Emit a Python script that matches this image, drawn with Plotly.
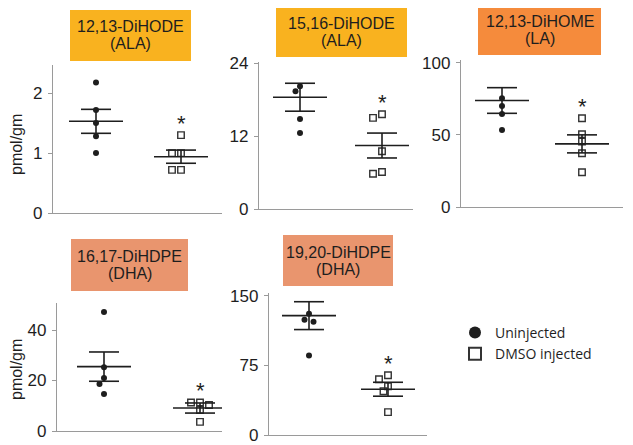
import math
import plotly.graph_objects as go

# page is 633x445; the browser body has an 8px margin, so the figure is
# drawn 8px in from the top-left and sized to fill the rest of the window
PAGE_W, PAGE_H = 633, 445
OFF = 8
W, H = PAGE_W - OFF, PAGE_H - OFF

# ---------------- data ----------------
compounds = ["12,13-DiHODE", "15,16-DiHODE", "12,13-DiHOME", "16,17-DiHDPE", "19,20-DiHDPE"]
precursors = ["(ALA)", "(ALA)", "(LA)", "(DHA)", "(DHA)"]
groups = ["Uninjected", "DMSO injected"]

uninj_vals = [
    [2.18, 1.72, 1.50, 1.28, 1.00],
    [20.2, 19.4, 14.8, 12.5],
    [75.5, 70.0, 64.6, 53.5],
    [47.1, 25.3, 21.0, 18.6, 14.7],
    [130.7, 124.3, 122.0, 85.7],
]
dmso_vals = [
    [1.30, 1.00, 1.00, 0.72, 0.72],
    [15.6, 15.0, 9.5, 6.1, 5.8],
    [61.6, 50.5, 45.4, 37.3, 24.1],
    [11.3, 11.3, 10.3, 8.3, 3.6],
    [64.3, 60.0, 52.5, 47.2, 24.6],
]
uninj_mean = [1.53, 18.4, 73.9, 25.5, 128.6]
uninj_sem = [0.20, 2.3, 8.9, 5.8, 15.0]
dmso_mean = [0.94, 10.45, 43.8, 9.1, 49.3]
dmso_sem = [0.11, 2.05, 6.25, 2.0, 7.5]
tick_vals = [[0, 1, 2], [0, 12, 24], [0, 50, 100], [0, 20, 40], [0, 75, 150]]
y_max = [2.47, 24.2, 102, 50.7, 153]
y_label = "pmol/gm"

# ---------------- layout geometry (page pixels) ----------------
panels = [
    dict(xl=53, xr=222, yb=213, yt=65, g0=96, g1=181, box=(70, 10, 191, 61), color="#F9B21F"),
    dict(xl=259, xr=413, yb=209, yt=62, g0=300, g1=382, box=(276, 7, 407, 57), color="#F9B21F"),
    dict(xl=461, xr=623, yb=207, yt=60, g0=502, g1=582, box=(478, 4, 601, 55), color="#F58B3C"),
    dict(xl=57, xr=222, yb=431, yt=303, g0=104, g1=200, box=(71, 239, 188, 291), color="#E9956E"),
    dict(xl=269, xr=427, yb=435, yt=293, g0=309, g1=388, box=(283, 235, 393, 286), color="#E9956E"),
]

FONT = "Liberation Sans, Arial, sans-serif"
AX = "#9a9a9a"
INK = "#1e1e1e"


def px_x(p):
    return (p - OFF) / W


def px_y(p):
    return 1 - (p - OFF) / H


def swarm(vals, ppu, dist=6.2, step=4.5):
    placed = []
    offs = []
    cands = [0, -step, step, -2 * step, 2 * step, -3 * step, 3 * step]
    for v in vals:
        py = v * ppu
        for c in cands:
            if all(math.hypot(c - ox, py - oy) >= dist for ox, oy in placed):
                break
        placed.append((c, py))
        offs.append(c)
    return offs


fig = go.Figure()
shapes = []
annotations = []
layout_axes = {}

for i, p in enumerate(panels):
    sfx = "" if i == 0 else str(i + 1)
    xa, ya = "x" + sfx, "y" + sfx
    gpx = p["g1"] - p["g0"]
    ppu = (p["yb"] - p["yt"]) / y_max[i]

    xr0 = (p["xl"] - p["g0"]) / gpx
    xr1 = (p["xr"] - p["g0"]) / gpx

    layout_axes["xaxis" + sfx] = dict(
        domain=[px_x(p["xl"]), min(1, px_x(p["xr"]))], range=[xr0, xr1], anchor=ya,
        showline=True, linecolor=AX, linewidth=1.3, showticklabels=False,
        ticks="", showgrid=False, zeroline=False, fixedrange=True, automargin=False,
    )
    layout_axes["yaxis" + sfx] = dict(
        domain=[max(0, px_y(p["yb"])), px_y(p["yt"])], range=[0, y_max[i]], anchor=xa,
        showline=True, linecolor=AX, linewidth=1.3, ticks="outside", ticklen=4,
        tickcolor=AX, tickwidth=1.2, tickvals=tick_vals[i],
        tickfont=dict(family=FONT, size=17, color=INK), showgrid=False,
        zeroline=False, fixedrange=True, automargin=False, ticklabelstandoff=2,
        ticklabeloverflow="allow",
    )

    # points
    for gi, vals in enumerate([uninj_vals[i], dmso_vals[i]]):
        offs = swarm(vals, ppu)
        xs = [gi + o / gpx for o in offs]
        if gi == 0:
            marker = dict(symbol="circle", size=6, color=INK, line=dict(width=0))
        else:
            marker = dict(symbol="square-open", size=6.5, color="#333333", line=dict(width=1.4))
        fig.add_trace(go.Scatter(
            x=xs, y=vals, mode="markers", marker=marker, xaxis=xa, yaxis=ya,
            name=groups[gi], showlegend=(i == 0), legendgroup=groups[gi],
            hoverinfo="skip", cliponaxis=False,
        ))

    # mean +/- SEM
    hm = 27 / gpx
    hc = 15 / gpx
    lx, ly = [], []
    for gi, (m, s) in enumerate([(uninj_mean[i], uninj_sem[i]), (dmso_mean[i], dmso_sem[i])]):
        lx += [gi - hm, gi + hm, None, gi - hc, gi + hc, None, gi - hc, gi + hc, None, gi, gi, None]
        ly += [m, m, None, m + s, m + s, None, m - s, m - s, None, m - s, m + s, None]
    fig.add_trace(go.Scatter(
        x=lx, y=ly, mode="lines", line=dict(color=INK, width=1.6),
        xaxis=xa, yaxis=ya, showlegend=False, hoverinfo="skip",
    ))

    # significance asterisk
    annotations.append(dict(
        x=1, y=max(dmso_vals[i]), xref=xa, yref=ya, text="*", showarrow=False,
        yshift=12, font=dict(family=FONT, size=22, color=INK),
    ))

    # title box
    bx0, by0, bx1, by1 = p["box"]
    shapes.append(dict(
        type="rect", xref="paper", yref="paper", x0=px_x(bx0), x1=px_x(bx1),
        y0=px_y(by1), y1=px_y(by0), fillcolor=p["color"], line=dict(width=0),
        layer="below",
    ))
    cx = (bx0 + bx1) / 2
    cy = (by0 + by1) / 2
    for txt, dy in [(compounds[i], -8.5), (precursors[i], 8.5)]:
        annotations.append(dict(
            x=px_x(cx), y=px_y(cy + dy), xref="paper", yref="paper", text=txt,
            showarrow=False, font=dict(family=FONT, size=16, color=INK),
            xanchor="center", yanchor="middle",
        ))

# y-axis labels
for yc in [145, 370]:
    annotations.append(dict(
        x=px_x(16), y=px_y(yc), xref="paper", yref="paper", text=y_label,
        textangle=-90, showarrow=False, font=dict(family=FONT, size=16, color=INK),
        xanchor="center", yanchor="middle",
    ))

fig.update_layout(
    template="none",
    width=W, height=H, margin=dict(l=0, r=0, t=0, b=0, pad=0, autoexpand=False),
    paper_bgcolor="white", plot_bgcolor="white",
    shapes=shapes, annotations=annotations,
    showlegend=True,
    legend=dict(
        x=px_x(455), y=px_y(317), xanchor="left", yanchor="top",
        font=dict(family="Open Sans, sans-serif", size=14, color=INK),
        itemsizing="constant", bgcolor="rgba(0,0,0,0)", tracegroupgap=0,
    ),
    **layout_axes,
)

fig.write_html("out.html")
